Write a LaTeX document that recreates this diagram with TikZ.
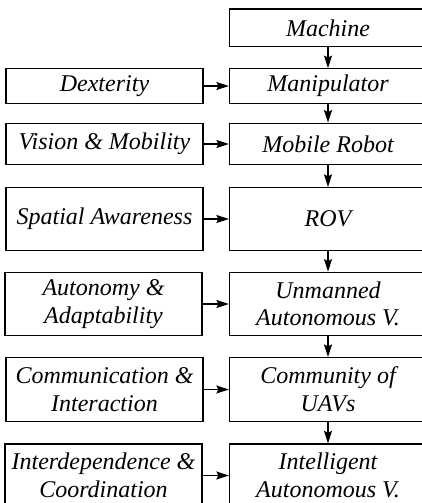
\documentclass[tikz,border=0pt]{standalone}
\usepackage{fontspec}
\setmainfont{Liberation Serif}
\usetikzlibrary{arrows.meta}
\tikzset{every node/.style={font=\itshape\fontsize{24}{27.7}\selectfont}}

\begin{document}
\begin{tikzpicture}[
  x=1pt, y=-1pt,
  >={Stealth[length=12.5pt,width=8pt,inset=2pt]},
  block/.style={draw, line width=1.2pt, align=center, inner sep=0pt,
    minimum width=197pt},
% height is set per row, the two columns share it
  link/.style={->, line width=1.5pt}
]
\useasboundingbox (0,0) rectangle (422,503);
\clip (0,0) rectangle (422,503);

% stages on the right
\path (328,27.8) node[block, minimum height=37.7pt] (R1) {Machine};
\path (328,86) node[block, minimum height=34.5pt] (R2) {Manipulator};
\path (328,144) node[block, minimum height=41.7pt] (R3) {Mobile Robot};
\path (328,219) node[block, minimum height=63pt] (R4) {ROV};
\path (328,304) node[block, minimum height=63.5pt] (R5) {Unmanned\\Autonomous V.};
\path (328,389.5) node[block, minimum height=64pt] (R6) {Community of\\UAVs};
\path (328,475.5) node[block, minimum height=63pt] (R7) {Intelligent\\Autonomous V.};

% what each stage adds, on the left
\path (104.5,86) node[block, minimum height=34.5pt] (L2) {Dexterity};
\path (104.5,144) node[block, minimum height=41.7pt] (L3) {Vision \& Mobility};
\path (104.5,219) node[block, minimum height=63pt] (L4) {Spatial Awareness};
\path (103.5,304) node[block, minimum height=63.5pt] (L5) {Autonomy \&\\Adaptability};
\path (104.5,389.5) node[block, minimum height=64pt] (L6) {Communication \&\\Interaction};
\path (103.5,475.5) node[block, minimum height=63pt] (L7) {Interdependence \&\\Coordination};

\foreach \a/\b in {R1/R2,R2/R3,R3/R4,R4/R5,R5/R6,R6/R7}
  \draw[link] (\a) -- (\b);
\foreach \i in {2,...,7}
  \draw[link] (L\i) -- (R\i);
\end{tikzpicture}
\end{document}
